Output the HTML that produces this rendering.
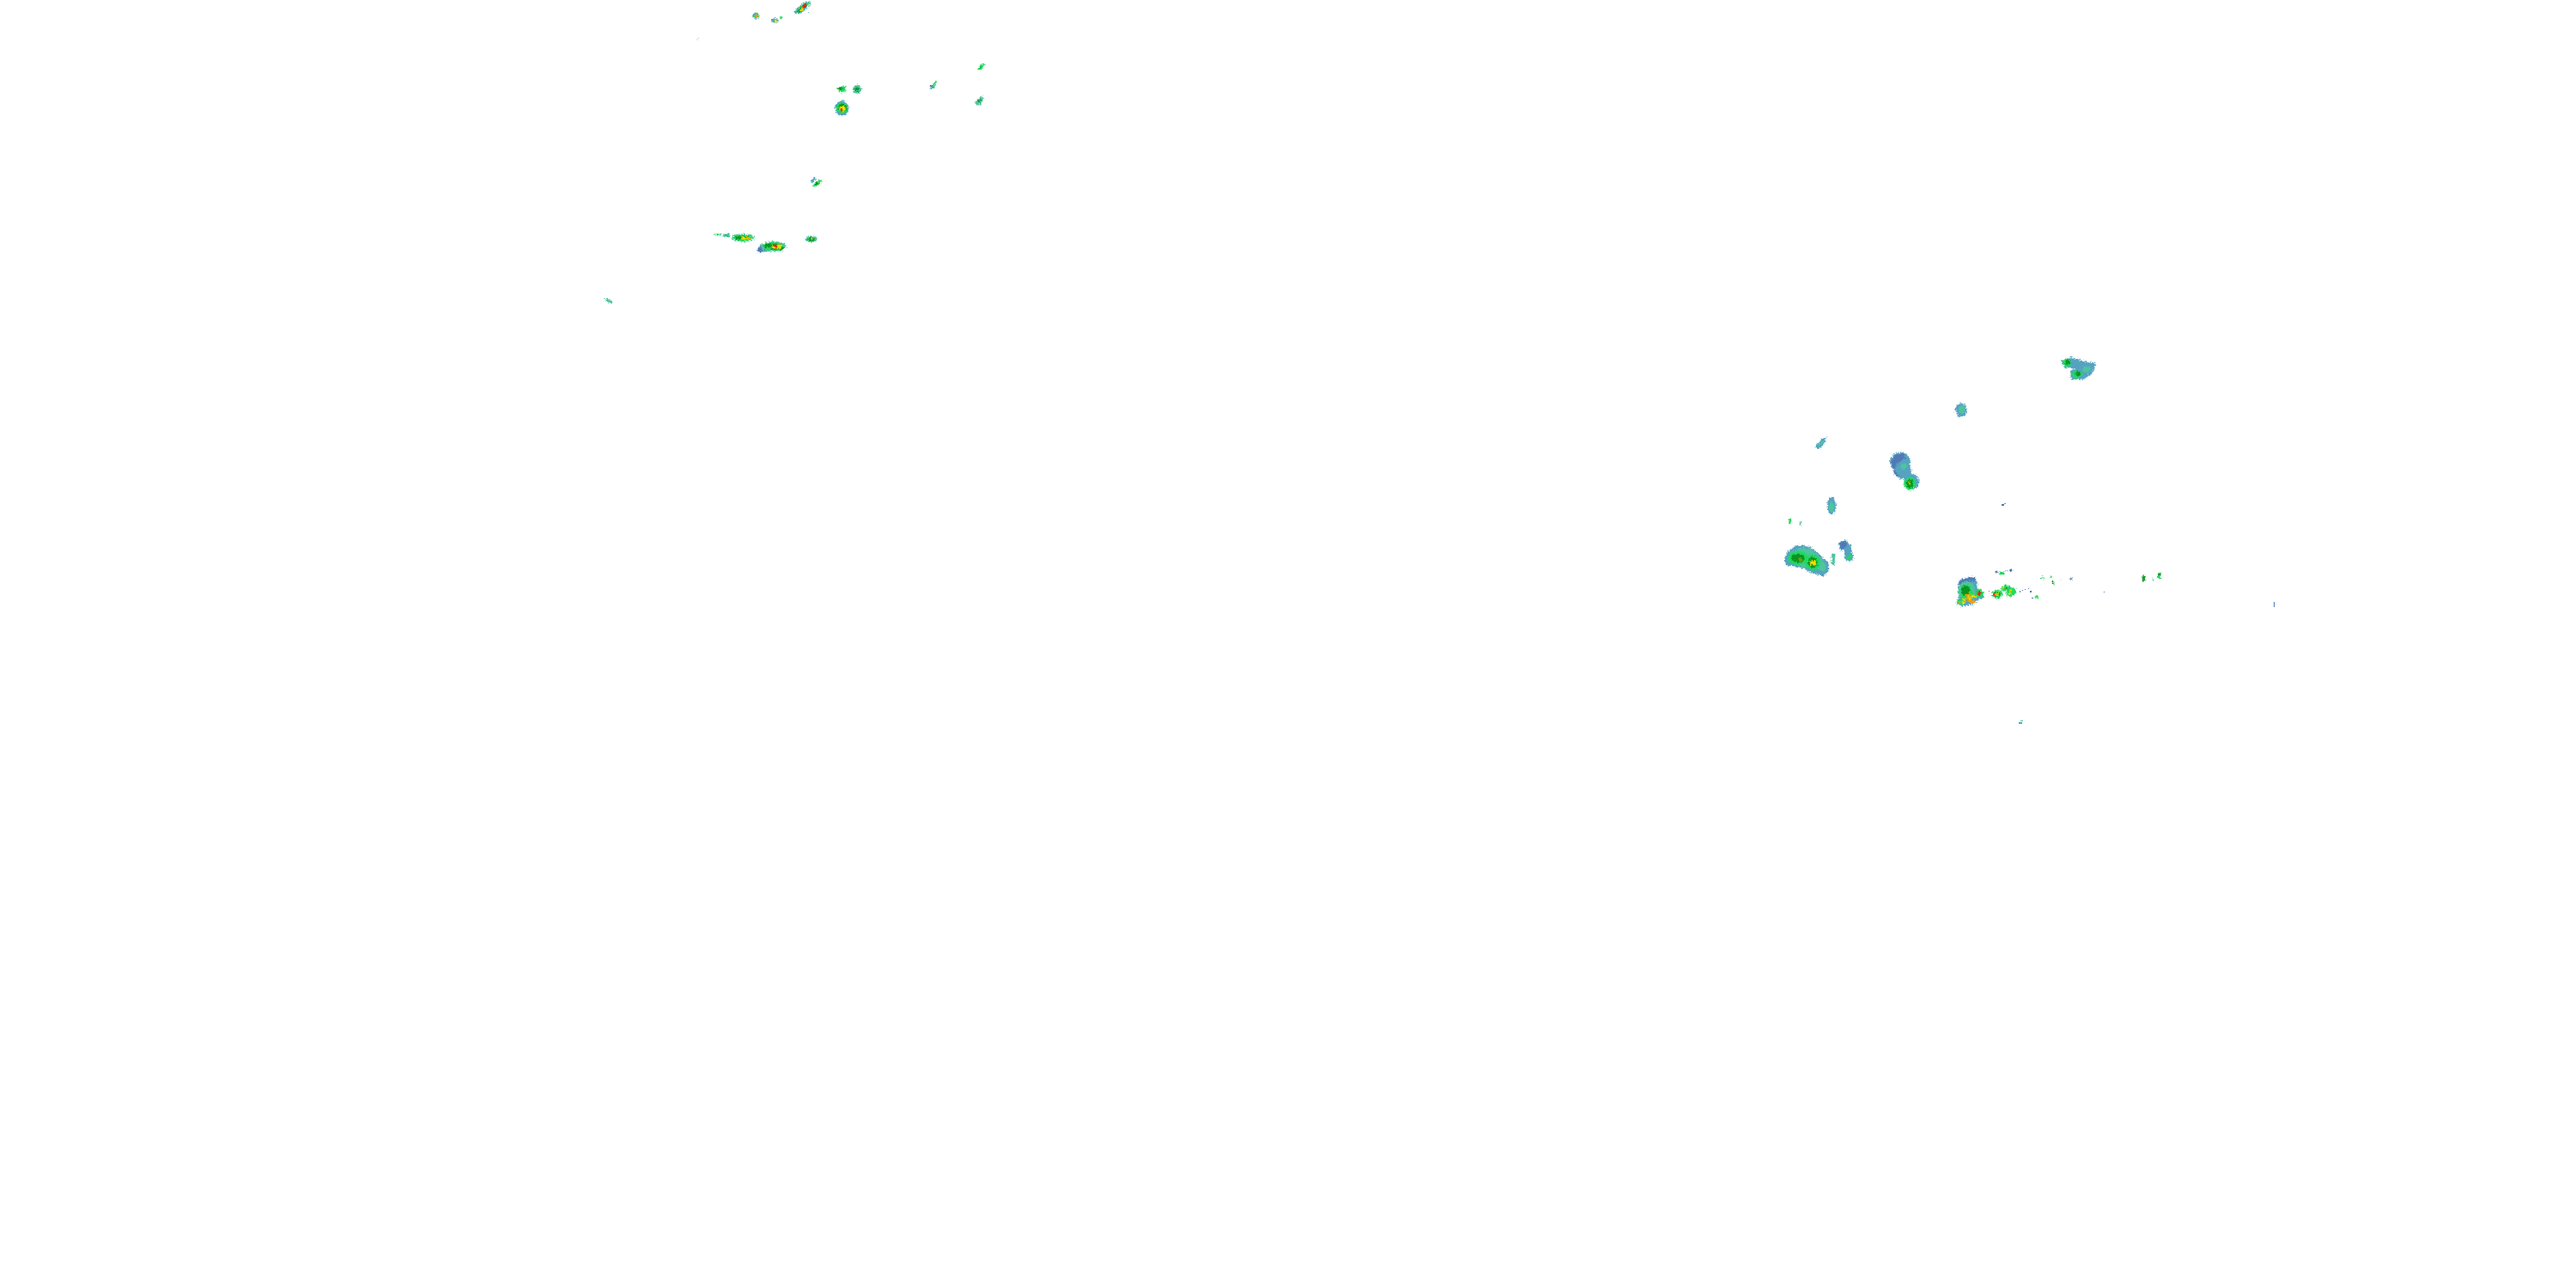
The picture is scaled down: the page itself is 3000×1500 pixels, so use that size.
<!DOCTYPE html>
<html><head><meta charset="utf-8"><style>html,body{margin:0;padding:0;background:#fff;width:3000px;height:1500px;overflow:hidden}svg{display:block}</style></head>
<body>
<svg width="3000" height="1500" viewBox="0 0 3000 1500" xmlns="http://www.w3.org/2000/svg" shape-rendering="crispEdges">
<defs>
<filter id="r" x="0" y="0" width="3000" height="1500" filterUnits="userSpaceOnUse" color-interpolation-filters="sRGB">
<feTurbulence type="fractalNoise" baseFrequency="0.6" numOctaves="2" seed="4" result="n"/>
<feDisplacementMap in="SourceGraphic" in2="n" scale="6" xChannelSelector="R" yChannelSelector="G"/>
</filter>
<style>
.b{fill:#5079b6}.s{fill:#55a3c0}.t{fill:#4fc4a0}.g{fill:#22d862}.d{fill:#0a9420}.y{fill:#f4dc00}.o{fill:#ff9c00}.e{fill:#ee2010}.l{fill:#7f9a14}
</style>
</defs>
<rect width="3000" height="1500" fill="#fff"/>
<g filter="url(#r)">
<!-- upper-left cluster -->
<polygon class="s" points="925,13 934,5 942,1 944,4 938,11 931,16 925,16"/>
<polygon class="g" points="926,13 935,5 943,2 942,6 935,12 929,15"/>
<polygon class="d" points="928,13 935,7 940,4 939,8 932,14"/>
<polygon class="y" points="930,13 936,7 938,8 933,13"/>
<rect class="e" x="935" y="5" width="4" height="4"/>
<ellipse class="s" cx="880.500" cy="18.500" rx="4" ry="3.500"/><ellipse class="g" cx="881" cy="18.500" rx="3" ry="2.500"/><ellipse class="o" cx="881.500" cy="18.500" rx="1.800" ry="1.800"/>
<ellipse class="s" cx="902.500" cy="24" rx="4" ry="2.800"/><ellipse class="y" cx="903.500" cy="24.500" rx="2.200" ry="1.700"/>
<rect class="g" x="908" y="19" width="3" height="3"/>
<rect class="b" x="812" y="45" width="1" height="1"/>
<polygon class="g" points="974,103 980,101 985,100 985,106 979,108 976,104"/><rect class="d" x="975" y="102" width="7" height="2"/>
<ellipse class="t" cx="998" cy="104" rx="5" ry="5"/><ellipse class="d" cx="998" cy="104" rx="2.500" ry="2.500"/>
<rect class="t" x="979" y="117" width="4" height="5"/>
<ellipse class="s" cx="980.500" cy="126" rx="8" ry="8"/><ellipse class="g" cx="980.500" cy="126" rx="6.500" ry="6.500"/>
<ellipse class="d" cx="981" cy="125.500" rx="5" ry="5"/><ellipse class="y" cx="981" cy="126.500" rx="4" ry="3.500"/><ellipse class="e" cx="980" cy="128" rx="1.800" ry="1.500"/>
<polygon class="g" points="1083,102 1088,96 1091,94 1089,100 1085,104"/><rect class="b" x="1083" y="99" width="3" height="4"/>
<polygon class="g" points="1138,81 1144,74 1147,74 1143,81"/><rect class="d" x="1141" y="77" width="2" height="2"/>
<polygon class="t" points="1135,119 1142,112 1146,114 1142,122 1137,122"/><polygon class="d" points="1138,118 1141,115 1143,116 1140,119"/>
<polygon class="s" points="943,211 948,207 951,208 946,213"/>
<polygon class="g" points="945,217 953,210 957,209 956,213 949,218"/><polygon class="d" points="948,215 952,212 954,212 950,216"/><rect class="y" x="952" y="212" width="2" height="1"/>
<rect class="g" x="832" y="272" width="6" height="2"/><rect class="s" x="838" y="273" width="6" height="1"/><rect class="t" x="842" y="272" width="8" height="4"/><rect class="d" x="845" y="274" width="3" height="1"/>
<ellipse class="t" cx="865" cy="277" rx="13" ry="4.500"/><ellipse class="g" cx="865" cy="277" rx="12" ry="3.800"/><rect class="d" x="857" y="275" width="15" height="4"/><rect class="y" x="863" y="276" width="10" height="3"/><rect class="o" x="870" y="276" width="5" height="2"/>
<polygon class="b" points="881,291 888,284 900,281 900,293 888,293 883,294"/>
<polygon class="t" points="885,285 900,281 912,283 916,287 910,292 896,293 888,291"/>
<polygon class="g" points="888,285 900,282 911,284 914,288 905,292 893,291"/>
<rect class="d" x="890" y="284" width="18" height="4"/><rect class="d" x="898" y="288" width="14" height="3"/>
<polygon class="y" points="898,286 908,285 912,287 907,290 899,289"/>
<rect class="e" x="901" y="285" width="4" height="3"/>
<ellipse class="t" cx="945" cy="278.500" rx="7" ry="3.800"/><ellipse class="d" cx="945" cy="278.500" rx="3.800" ry="2"/><rect class="y" x="944" y="278" width="3" height="1"/>
<polygon class="t" points="703,347 708,348 713,351 713,353 707,352"/>
<!-- right cluster: upper -->
<polygon class="s" points="2400,420 2412,416 2424,420 2441,423 2437,434 2427,442 2412,442 2411,432 2417,429 2404,428"/>
<ellipse class="t" cx="2430" cy="430" rx="5" ry="3.500"/>
<ellipse class="g" cx="2407" cy="422.500" rx="5" ry="4.500"/><ellipse class="d" cx="2408" cy="422" rx="3" ry="3"/>
<ellipse class="g" cx="2419" cy="436" rx="6" ry="4"/><ellipse class="d" cx="2420" cy="435.500" rx="3" ry="3"/>
<ellipse class="s" cx="2284" cy="477.500" rx="6.500" ry="8"/><ellipse class="t" cx="2285" cy="477" rx="3.800" ry="5"/>
<ellipse class="s" cx="2213" cy="538" rx="12" ry="11"/><ellipse class="s" cx="2216" cy="548" rx="10" ry="10"/>
<polygon class="b" points="2203,537 2207,530 2217,527 2219,534 2208,540 2207,548 2212,556 2206,552"/>
<ellipse class="t" cx="2217" cy="543" rx="4" ry="3.500"/>
<ellipse class="s" cx="2226" cy="561" rx="9" ry="9"/><ellipse class="g" cx="2224" cy="563" rx="7" ry="7.500"/><ellipse class="d" cx="2224" cy="563" rx="4" ry="5"/><rect class="y" x="2223" y="561" width="2" height="3"/>
<polygon class="s" points="2114,521 2122,510 2127,510 2125,516 2118,523"/><polygon class="t" points="2117,519 2122,513 2124,514 2119,520"/>
<ellipse class="s" cx="2133" cy="589" rx="5" ry="10"/><ellipse class="t" cx="2133" cy="590" rx="3" ry="6"/>
<rect class="g" x="2083" y="604" width="3" height="6"/><rect class="t" x="2096" y="607" width="2" height="5"/>
<!-- big blob -->
<polygon class="s" points="2078,651 2082,642 2090,636 2098,635 2108,637 2115,642 2121,648 2129,654 2130,664 2123,671 2110,667 2100,662 2088,659 2080,659"/>
<polygon class="t" points="2081,651 2085,644 2096,638 2110,640 2120,650 2127,658 2125,666 2118,664 2106,662 2088,657"/>
<ellipse class="g" cx="2094" cy="650" rx="12" ry="8"/><ellipse class="g" cx="2111" cy="655" rx="9" ry="9"/>
<ellipse class="d" cx="2094" cy="650" rx="8" ry="5"/><ellipse class="d" cx="2111" cy="655" rx="5.500" ry="6.500"/>
<rect class="l" x="2095" y="649" width="3" height="5"/>
<rect class="y" x="2108" y="653" width="7" height="5"/>
<rect class="t" x="2133" y="645" width="4" height="13"/>
<polygon class="s" points="2141,632 2150,629 2155,635 2157,645 2159,650 2154,654 2148,651 2148,641 2143,641"/>
<polygon class="b" points="2142,632 2150,630 2151,636 2144,640"/>
<polygon class="g" points="2150,652 2151,648 2156,646 2157,648 2153,652"/>
<!-- lower big storm -->
<polygon class="s" points="2280,680 2285,674 2297,672 2302,674 2303,690 2309,689 2310,696 2303,699 2298,704 2285,706 2278,703 2283,690"/>
<polygon class="b" points="2281,678 2285,674 2300,672 2300,676 2288,677 2283,684"/>
<ellipse class="t" cx="2290" cy="688" rx="10" ry="11"/>
<ellipse class="g" cx="2290" cy="690" rx="7" ry="9"/><ellipse class="d" cx="2289" cy="688" rx="5" ry="6"/>
<polygon class="o" points="2289,692 2294,691 2296,698 2298,701 2301,700 2299,704 2295,703 2290,698"/>
<polygon class="y" points="2292,692 2294,692 2295,698 2292,698"/><rect class="y" x="2296" y="693" width="10" height="3"/>
<rect class="g" x="2279" y="699" width="6" height="5"/><rect class="o" x="2281" y="701" width="2" height="2"/><rect class="y" x="2285" y="697" width="3" height="7"/>
<rect class="o" x="2297" y="698" width="3" height="3"/>
<ellipse class="g" cx="2305" cy="691" rx="5" ry="5"/><rect class="e" x="2303" y="689" width="4" height="4"/>
<ellipse class="g" cx="2326" cy="692" rx="6" ry="5"/><rect class="d" x="2322" y="690" width="8" height="4"/><rect class="y" x="2324" y="691" width="4" height="2"/><rect class="e" x="2321" y="691" width="3" height="3"/>
<polygon class="g" points="2329,686 2336,680 2341,684 2347,685 2348,691 2342,695 2335,693 2338,688 2332,689"/><rect class="d" x="2334" y="684" width="5" height="2"/><rect class="y" x="2332" y="684" width="3" height="2"/><rect class="y" x="2340" y="686" width="3" height="2"/><rect class="y" x="2339" y="690" width="3" height="2"/>
<rect class="g" x="2328" y="666" width="6" height="3"/><rect class="b" x="2324" y="665" width="2" height="3"/>
<rect class="b" x="2336" y="664" width="2" height="1"/><rect class="b" x="2340" y="663" width="4" height="2"/>
<rect class="g" x="2377" y="672" width="4" height="2"/><rect class="g" x="2387" y="671" width="3" height="2"/><rect class="d" x="2390" y="677" width="2" height="4"/><rect class="t" x="2400" y="674" width="1" height="1"/><rect class="b" x="2410" y="673" width="3" height="2"/>
<rect class="g" x="2370" y="694" width="4" height="3"/><rect class="y" x="2371" y="695" width="2" height="1"/>
<rect class="d" x="2495" y="670" width="3" height="7"/><rect class="t" x="2507" y="673" width="2" height="4"/><rect class="g" x="2512" y="670" width="4" height="4"/><rect class="d" x="2514" y="667" width="3" height="3"/>
</g>
<!-- tiny specks, kept off the roughening filter -->
<rect class="b" x="2648" y="701" width="1" height="6"/>
<rect class="t" x="2353" y="839" width="3" height="1"/><rect class="s" x="2351" y="841" width="4" height="2"/>
<rect class="b" x="2331" y="587" width="3" height="2"/><rect class="s" x="2334" y="586" width="2" height="1"/>
<rect class="b" x="2450" y="689" width="1" height="1"/>
<rect class="b" x="2352" y="688" width="1" height="2"/><rect class="b" x="2355" y="687" width="1" height="1"/><rect class="b" x="2358" y="686" width="1" height="1"/><rect class="b" x="2362" y="685" width="1" height="1"/><rect class="b" x="2364" y="688" width="2" height="2"/><rect class="b" x="2366" y="696" width="2" height="1"/><rect class="b" x="2316" y="688" width="1" height="1"/>
<rect class="t" x="941" y="14" width="1" height="1"/>
</svg>
</body></html>
